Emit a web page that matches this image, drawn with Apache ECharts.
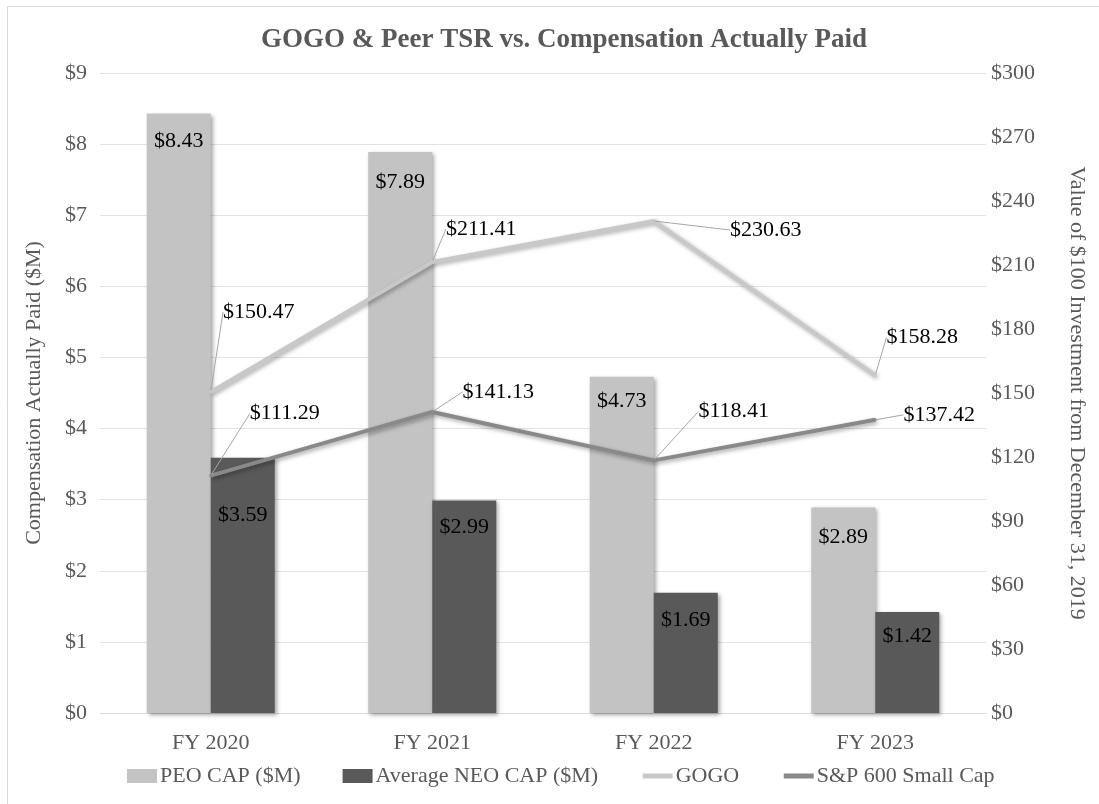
<!DOCTYPE html>
<html>
<head>
<meta charset="utf-8">
<script src="https://cdn.jsdelivr.net/npm/echarts@6/dist/echarts.min.js"></script>
<style>
html,body{margin:0;padding:0;background:#fff;}
#chart{width:1099px;height:804px;}
</style>
</head>
<body>
<div id="chart"></div>
<script>
const categories = ['FY 2020', 'FY 2021', 'FY 2022', 'FY 2023'];
const peoCap = [8.43, 7.89, 4.73, 2.89];
const neoCap = [3.59, 2.99, 1.69, 1.42];
const gogo = [150.47, 211.41, 230.63, 158.28];
const sp600 = [111.29, 141.13, 118.41, 137.42];
const leftTicks = [0, 1, 2, 3, 4, 5, 6, 7, 8, 9];
const rightTicks = [0, 30, 60, 90, 120, 150, 180, 210, 240, 270, 300];

// label placement (style only)
const gogoLabelShift = [[48, -80], [49, -33], [112, 9], [47, -38]];
const spLabelShift = [[74, -62], [66, -20], [80, -49], [64, -5]];
const peoLabelDist = [17, 19, 14, 19];
const neoLabelDist = [47, 16, 16, 13];

const FONT = '"Liberation Serif", "Times New Roman", serif';
const money2 = v => '$' + v.toFixed(2);

const chart = echarts.init(document.getElementById('chart'));
const shadow = {shadowColor: 'rgba(0,0,0,0.35)', shadowBlur: 4, shadowOffsetX: 2, shadowOffsetY: 2};

chart.setOption({
  backgroundColor: '#ffffff',
  animation: false,
  textStyle: {fontFamily: FONT},
  graphic: [{
    type: 'rect', shape: {x: 7.5, y: 6.5, width: 1200, height: 1000},
    style: {fill: 'none', stroke: '#d9d9d9', lineWidth: 1}, silent: true
  }],
  title: {
    text: 'GOGO & Peer TSR vs. Compensation Actually Paid',
    left: 256, top: 22,
    textStyle: {fontFamily: FONT, fontSize: 27, fontWeight: 'bold', color: '#595959'}
  },
  legend: {
    bottom: 12, left: 122,
    itemWidth: 30, itemHeight: 14, itemGap: 42,
    textStyle: {fontFamily: FONT, fontSize: 22, color: '#595959', padding: [0, 0, 0, -2]},
    data: [
      {name: 'PEO CAP ($M)', icon: 'rect'},
      {name: 'Average NEO CAP ($M)', icon: 'rect'},
      {name: 'GOGO', itemStyle: {opacity: 0}, lineStyle: {width: 5}},
      {name: 'S&P 600 Small Cap', itemStyle: {opacity: 0}, lineStyle: {width: 5}}
    ]
  },
  grid: {left: 100, right: 113, top: 73, bottom: 91},
  xAxis: {
    type: 'category', data: categories,
    axisLine: {lineStyle: {color: '#d9d9d9'}},
    axisTick: {show: false},
    axisLabel: {fontFamily: FONT, fontSize: 22, color: '#595959', margin: 19}
  },
  yAxis: [{
    type: 'value', min: 0, max: 9, interval: 1,
    name: 'Compensation Actually Paid ($M)',
    nameLocation: 'middle', nameGap: 55, nameRotate: 90,
    nameTextStyle: {fontFamily: FONT, fontSize: 22, color: '#595959'},
    axisLine: {show: false}, axisTick: {show: false},
    axisLabel: {fontFamily: FONT, fontSize: 22, color: '#595959', margin: 13,
      formatter: v => leftTicks.includes(v) ? '$' + v : ''},
    splitLine: {lineStyle: {color: '#e3e3e3', width: 1}}
  }, {
    type: 'value', min: 0, max: 300, interval: 30,
    name: 'Value of $100 Investment from December 31, 2019',
    nameLocation: 'middle', nameGap: 80, nameRotate: -90,
    nameTextStyle: {fontFamily: FONT, fontSize: 22, color: '#595959'},
    axisLine: {show: false}, axisTick: {show: false},
    axisLabel: {fontFamily: FONT, fontSize: 22, color: '#595959', margin: 5,
      formatter: v => rightTicks.includes(v) ? '$' + v : ''},
    splitLine: {show: false}
  }],
  series: [{
    name: 'PEO CAP ($M)', type: 'bar', yAxisIndex: 0,
    barWidth: 64, barGap: '0%',
    itemStyle: Object.assign({color: '#c3c3c3'}, shadow),
    data: peoCap.map((v, i) => ({value: v, label: {distance: peoLabelDist[i]}})),
    label: {show: true, position: 'insideTop', fontFamily: FONT, fontSize: 22, color: '#000',
      formatter: p => money2(p.value)}
  }, {
    name: 'Average NEO CAP ($M)', type: 'bar', yAxisIndex: 0,
    barWidth: 64, barGap: '0%',
    itemStyle: Object.assign({color: '#595959'}, shadow),
    data: neoCap.map((v, i) => ({value: v, label: {distance: neoLabelDist[i]}})),
    label: {show: true, position: 'insideTop', fontFamily: FONT, fontSize: 22, color: '#000',
      formatter: p => money2(p.value)}
  }, {
    name: 'GOGO', type: 'line', yAxisIndex: 1, data: gogo,
    symbol: 'circle', symbolSize: 3,
    itemStyle: {color: '#c8c8c8'},
    lineStyle: Object.assign({color: '#c8c8c8', width: 4}, shadow),
    label: {show: true, position: 'inside', fontFamily: FONT, fontSize: 22, color: '#000',
      formatter: p => money2(p.value)},
    labelLine: {show: true, lineStyle: {color: '#a6a6a6', width: 1}},
    labelLayout: p => ({dx: gogoLabelShift[p.dataIndex][0], dy: gogoLabelShift[p.dataIndex][1]}),
    z: 5
  }, {
    name: 'S&P 600 Small Cap', type: 'line', yAxisIndex: 1, data: sp600,
    symbol: 'circle', symbolSize: 3,
    itemStyle: {color: '#898989'},
    lineStyle: Object.assign({color: '#898989', width: 4}, shadow),
    label: {show: true, position: 'inside', fontFamily: FONT, fontSize: 22, color: '#000',
      formatter: p => money2(p.value)},
    labelLine: {show: true, lineStyle: {color: '#a6a6a6', width: 1}},
    labelLayout: p => ({dx: spLabelShift[p.dataIndex][0], dy: spLabelShift[p.dataIndex][1]}),
    z: 5
  }]
});
</script>
</body>
</html>
